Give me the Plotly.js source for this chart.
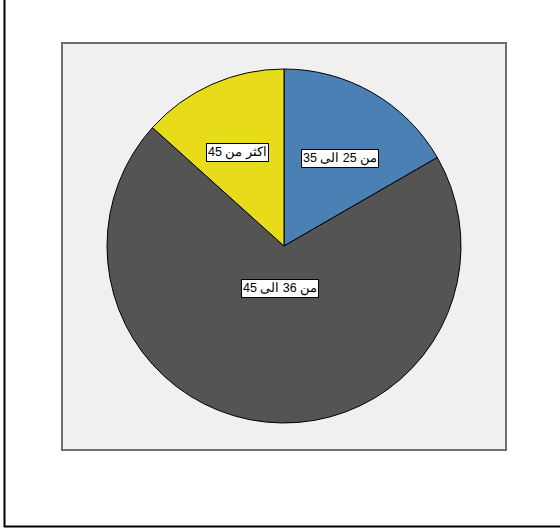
<!DOCTYPE html>
<html>
<head>
<meta charset="utf-8">
<script src="https://cdn.plot.ly/plotly-3.0.1.min.js"></script>
<style>
  html, body { margin: 0; padding: 0; background: #fff; }
  #chart { width: 560px; height: 529px; }
</style>
</head>
<body>
<div id="chart"></div>
<script>
// Data
const categories = ["من 25 الى 35", "من 36 الى 45", "اكثر من 45"];
const counts = [5, 21, 4];

// Styles
const sliceColors = ["#4a80b4", "#545454", "#e8dc1a"];
const labelRadius = [0.63, 0.24, 0.64]; // fraction of radius where labels sit

const W = 560, H = 529;
const cx = 284, cy = 246, R = 177;

const total = counts.reduce((a, b) => a + b, 0);
const annotations = [];
let acc = 0;
counts.forEach((v, i) => {
  const mid = (acc + v / 2) / total * 2 * Math.PI; // clockwise from top
  acc += v;
  const r = R * labelRadius[i];
  const px = cx + r * Math.sin(mid);
  const py = cy - r * Math.cos(mid);
  annotations.push({
    x: px / W, y: 1 - py / H, xref: "paper", yref: "paper",
    text: categories[i], showarrow: false,
    font: { family: "Liberation Sans, Arial, sans-serif", size: 12.5, color: "#000" },
    bgcolor: "#ffffff", bordercolor: "#000000", borderwidth: 1, borderpad: 1
  });
});

const trace = {
  type: "pie",
  labels: categories,
  values: counts,
  sort: false,
  direction: "clockwise",
  rotation: 0,
  textinfo: "none",
  hoverinfo: "label+value+percent",
  marker: { colors: sliceColors, line: { color: "#000000", width: 1 } },
  domain: { x: [(cx - R) / W, (cx + R) / W], y: [1 - (cy + R) / H, 1 - (cy - R) / H] },
  showlegend: false
};

const layout = {
  width: W, height: H,
  margin: { l: 0, r: 0, t: 0, b: 0 },
  paper_bgcolor: "#ffffff",
  showlegend: false,
  annotations: annotations,
  shapes: [
    { type: "rect", xref: "paper", yref: "paper", layer: "below",
      x0: 62 / W, x1: 506 / W, y0: 1 - 450 / H, y1: 1 - 43 / H,
      fillcolor: "#f0f0f0", line: { color: "#6e6e6e", width: 2 } },
    { type: "line", xref: "paper", yref: "paper",
      x0: 4.5 / W, x1: 4.5 / W, y0: 1 - 527 / H, y1: 1,
      line: { color: "#000000", width: 2 } },
    { type: "line", xref: "paper", yref: "paper",
      x0: 4 / W, x1: 1, y0: 1 - 526.5 / H, y1: 1 - 526.5 / H,
      line: { color: "#000000", width: 2 } }
  ]
};

Plotly.newPlot("chart", [trace], layout, { displayModeBar: false, staticPlot: true });
</script>
</body>
</html>
